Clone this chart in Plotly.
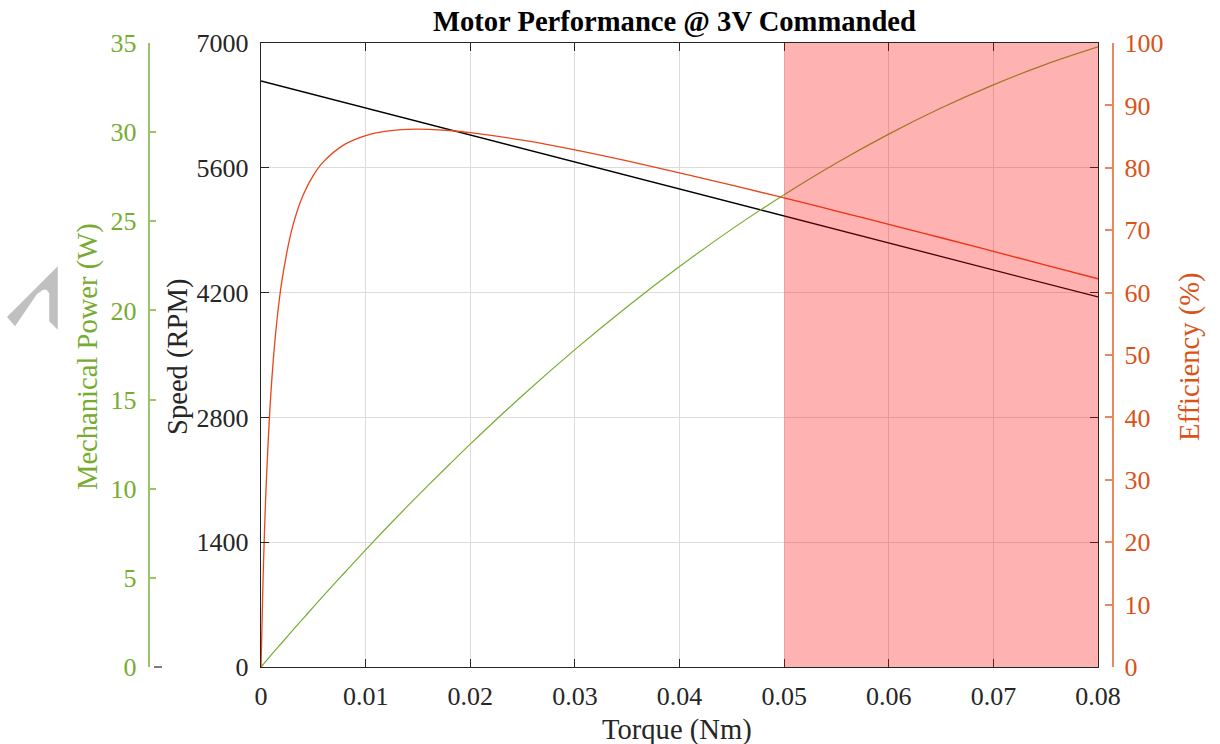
import plotly.graph_objects as go

# Motor characteristic at 3 V command
torque_nm = [0, 0.0002, 0.0005, 0.001, 0.0015, 0.002, 0.003, 0.004, 0.005, 0.006,
             0.008, 0.010, 0.012, 0.014, 0.016, 0.018, 0.020, 0.025, 0.030, 0.035,
             0.040, 0.045, 0.050, 0.055, 0.060, 0.065, 0.070, 0.075, 0.080]
speed_rpm = [6574, 6568, 6559, 6544, 6529, 6513, 6483, 6453, 6423, 6392,
             6332, 6271, 6211, 6150, 6089, 6029, 5968, 5817, 5665, 5514,
             5363, 5211, 5060, 4908, 4757, 4605, 4454, 4303, 4151]
power_w = [0, 0.14, 0.34, 0.69, 1.03, 1.36, 2.04, 2.70, 3.36, 4.02,
           5.30, 6.57, 7.81, 9.02, 10.20, 11.36, 12.50, 15.23, 17.80, 20.21,
           22.46, 24.56, 26.49, 28.27, 29.89, 31.35, 32.65, 33.80, 34.78]
efficiency_pct = [0, 14.27, 29.34, 45.25, 55.17, 61.92, 70.44, 75.51, 78.79, 81.03,
                  83.75, 85.17, 85.88, 86.17, 86.17, 85.98, 85.65, 84.43, 82.87, 81.10,
                  79.20, 77.21, 75.17, 73.07, 70.94, 68.79, 66.61, 64.42, 62.22]

# Over-torque band
band_start, band_end = 0.05, 0.08

x_ticks = [0, 0.01, 0.02, 0.03, 0.04, 0.05, 0.06, 0.07, 0.08]
x_tick_text = ["0", "0.01", "0.02", "0.03", "0.04", "0.05", "0.06", "0.07", "0.08"]
speed_ticks = [0, 1400, 2800, 4200, 5600, 7000]
power_ticks = [0, 5, 10, 15, 20, 25, 30, 35]
eff_ticks = [0, 10, 20, 30, 40, 50, 60, 70, 80, 90, 100]

W, H = 1220, 744
AX = "#262626"
GREEN = "#77AC30"
ORANGE = "#D95319"
FONT = "Liberation Serif"
TICK_SIZE = 26
LABEL_SIZE = 28.6


def px(x):
    return x / W


def py(y):
    return 1 - y / H


fig = go.Figure()
fig.add_trace(go.Scatter(x=torque_nm, y=speed_rpm, mode="lines",
                         line=dict(color="#000000", width=1.3), yaxis="y"))
fig.add_trace(go.Scatter(x=torque_nm, y=power_w, mode="lines", line_shape="spline",
                         line=dict(color=GREEN, width=1.2), yaxis="y2"))
fig.add_trace(go.Scatter(x=torque_nm, y=efficiency_pct, mode="lines", line_shape="spline",
                         line=dict(color="#E8451A", width=1.3), yaxis="y3"))

x_dom = [px(261), px(1098)]
y_dom = [py(667), py(43)]

common_tick = dict(ticks="inside", ticklen=8, tickwidth=1, ticklabelstandoff=6)

fig.update_layout(
    width=W, height=H,
    margin=dict(l=0, r=0, t=0, b=0),
    paper_bgcolor="white", plot_bgcolor="white",
    showlegend=False,
    font=dict(family=FONT, size=TICK_SIZE, color=AX),
    xaxis=dict(domain=x_dom, range=[0, 0.08], tickvals=x_ticks, ticktext=x_tick_text,
               showgrid=True, gridcolor="#dcdcdc", gridwidth=1,
               showline=True, linecolor=AX, linewidth=1.4, mirror="ticks",
               tickcolor=AX, zeroline=False, automargin=False,
               tickfont=dict(family=FONT, size=TICK_SIZE, color=AX), **common_tick),
    yaxis=dict(domain=y_dom, range=[0, 7000], tickvals=speed_ticks,
               showgrid=True, gridcolor="#dcdcdc", gridwidth=1,
               showline=True, linecolor=AX, linewidth=1.4, mirror="ticks",
               tickcolor=AX, zeroline=False, automargin=False,
               tickfont=dict(family=FONT, size=TICK_SIZE, color=AX), **common_tick),
    yaxis2=dict(overlaying="y", anchor="free", position=px(148.5), side="left",
                range=[0, 35], tickvals=power_ticks, showgrid=False, zeroline=False,
                showline=True, linecolor="#9CC36A", linewidth=1.5, tickcolor="#9CC36A",
                automargin=False,
                tickfont=dict(family=FONT, size=TICK_SIZE, color=GREEN),
                ticks="inside", ticklen=7, tickwidth=1.5, ticklabelstandoff=6),
    yaxis3=dict(overlaying="y", anchor="free", position=px(1112.5), side="right",
                range=[0, 100], tickvals=eff_ticks, showgrid=False, zeroline=False,
                showline=True, linecolor="#E8875E", linewidth=1.5, tickcolor="#E8875E",
                automargin=False,
                tickfont=dict(family=FONT, size=TICK_SIZE, color=ORANGE),
                ticks="inside", ticklen=7, tickwidth=1.5, ticklabelstandoff=6),
)

# Shaded over-torque band drawn over the curves
fig.add_shape(type="rect", xref="x", yref="y domain", x0=band_start, x1=band_end,
              y0=0, y1=1, fillcolor="rgba(255,0,0,0.3)", line=dict(width=0),
              layer="above")

# Short dark stub beside the power axis baseline
fig.add_shape(type="line", xref="paper", yref="paper",
              x0=px(154), x1=px(162), y0=py(667), y1=py(667),
              line=dict(color=AX, width=1.2))

# Grey glyph at the far left edge
glyph = [(8, 317), (57, 268), (57, 328), (50, 321), (50, 293), (47, 289),
         (43, 289), (36, 294), (15, 325)]
path = "M " + " L ".join(f"{px(a):.5f},{py(b):.5f}" for a, b in glyph) + " Z"
fig.add_shape(type="path", xref="paper", yref="paper", path=path,
              fillcolor="#c0c0c0", line=dict(color="#c0c0c0", width=1.5), layer="above")

# Title and axis labels
fig.add_annotation(text="<b>Motor Performance @ 3V Commanded</b>", xref="paper", yref="paper",
                   x=px(674), y=py(22), showarrow=False, xanchor="center", yanchor="middle",
                   font=dict(family=FONT, size=LABEL_SIZE, color="#000000"))
fig.add_annotation(text="Torque (Nm)", xref="paper", yref="paper",
                   x=px(677), y=py(730), showarrow=False, xanchor="center", yanchor="middle",
                   font=dict(family=FONT, size=LABEL_SIZE, color=AX))
fig.add_annotation(text="Speed (RPM)", xref="paper", yref="paper", textangle=-90,
                   x=px(178), y=py(357), showarrow=False, xanchor="center", yanchor="middle",
                   font=dict(family=FONT, size=LABEL_SIZE, color=AX))
fig.add_annotation(text="Mechanical Power (W)", xref="paper", yref="paper", textangle=-90,
                   x=px(88), y=py(357), showarrow=False, xanchor="center", yanchor="middle",
                   font=dict(family=FONT, size=LABEL_SIZE, color=GREEN))
fig.add_annotation(text="Efficiency (%)", xref="paper", yref="paper", textangle=-90,
                   x=px(1190), y=py(357), showarrow=False, xanchor="center", yanchor="middle",
                   font=dict(family=FONT, size=LABEL_SIZE, color=ORANGE))

fig.write_html("out.html")
